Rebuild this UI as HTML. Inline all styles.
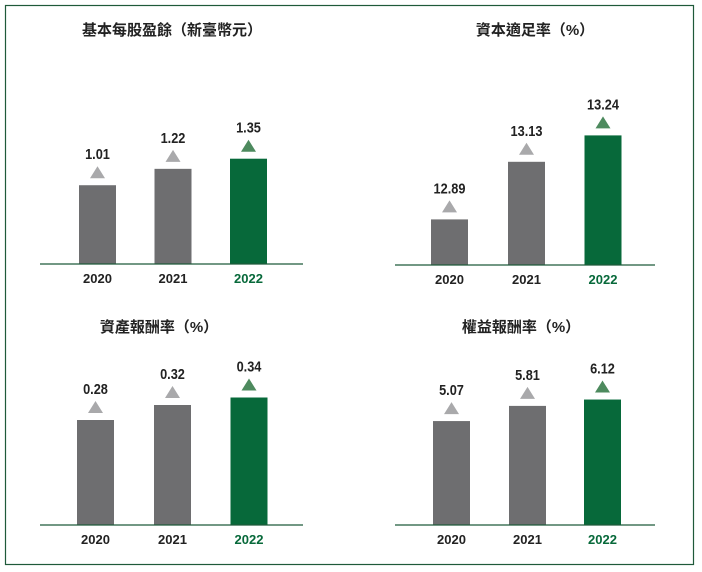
<!DOCTYPE html>
<html><head><meta charset="utf-8">
<style>
body{margin:0;background:#fff;}
svg{display:block;font-family:"Liberation Sans","Noto Sans CJK TC",sans-serif;}
</style></head>
<body>
<svg id="c" width="702" height="572" viewBox="0 0 702 572">
<rect x="5.5" y="5.5" width="688" height="559" fill="none" stroke="#1f5a3a" stroke-width="1.2"/>
</svg>
<script>
const categories = ["2020","2021","2022"];
const epsValues = [1.01, 1.22, 1.35];
const carValues = [12.89, 13.13, 13.24];
const roaValues = [0.28, 0.32, 0.34];
const roeValues = [5.07, 5.81, 6.12];
const epsLabels = ["1.01","1.22","1.35"];
const carLabels = ["12.89","13.13","13.24"];
const roaLabels = ["0.28","0.32","0.34"];
const roeLabels = ["5.07","5.81","6.12"];

const svg = document.getElementById('c');
const NS = 'http://www.w3.org/2000/svg';
function mk(tag, attrs){const e=document.createElementNS(NS,tag);for(const k in attrs)e.setAttribute(k,attrs[k]);svg.appendChild(e);return e;}

const panels = [
  {key:'eps', title:'基本每股盈餘（新臺幣元）', values:epsValues, labels:epsLabels, axisY:264, x0:40, x1:303, centers:[97.5,173,248.5], vmin:0, scale:78, titleX:172, titleY:35},
  {key:'car', title:'資本適足率（%）', values:carValues, labels:carLabels, axisY:265, x0:395, x1:655, centers:[449.5,526.5,603], vmin:12.70, scale:240, titleX:535, titleY:35},
  {key:'roa', title:'資產報酬率（%）', values:roaValues, labels:roaLabels, axisY:525, x0:40, x1:303, centers:[95.5,172.5,249], vmin:0, scale:375, titleX:159, titleY:332},
  {key:'roe', title:'權益報酬率（%）', values:roeValues, labels:roeLabels, axisY:525, x0:395, x1:655, centers:[451.5,527.5,602.5], vmin:0, scale:20.5, titleX:521, titleY:332}
];

panels.forEach(p=>{
  const yScale = v => p.axisY - (v - p.vmin) * p.scale;
  const t = mk('text',{x:p.titleX,y:p.titleY,'text-anchor':'middle','font-size':'15','font-weight':'bold',fill:'#222'});
  t.textContent = p.title;
  
  
  p.values.forEach((v,i)=>{
    const cx = p.centers[i];
    const top = yScale(v);
    const last = i===p.values.length-1;
    const bar = mk('rect',{x:cx-18.5,y:top,width:37,height:p.axisY-top,fill:last?'#07693a':'#6e6e70'});
    
    
    const tri = mk('polygon',{points:`${cx-7.5},${top-7} ${cx+7.5},${top-7} ${cx},${top-19}`,fill:last?'#4d8a5e':'#a9a9ab'});
    
    
    const lab = mk('text',{x:cx,y:top-26,'text-anchor':'middle','font-size':'15','font-weight':'bold',fill:'#222',transform:`translate(${cx},0) scale(0.85,1) translate(${-cx},0)`});
    lab.textContent = p.labels[i];
    
    
    const yr = mk('text',{x:cx,y:p.axisY+19,'text-anchor':'middle','font-size':'13','font-weight':'bold',fill:last?'#07693a':'#222'});
    yr.textContent = categories[i];
    
    
  });
  const ax = mk('line',{x1:p.x0,x2:p.x1,y1:p.axisY,y2:p.axisY,stroke:'#1f5a3a','stroke-width':'1.2'});
  
  
});
</script>
</body></html>
